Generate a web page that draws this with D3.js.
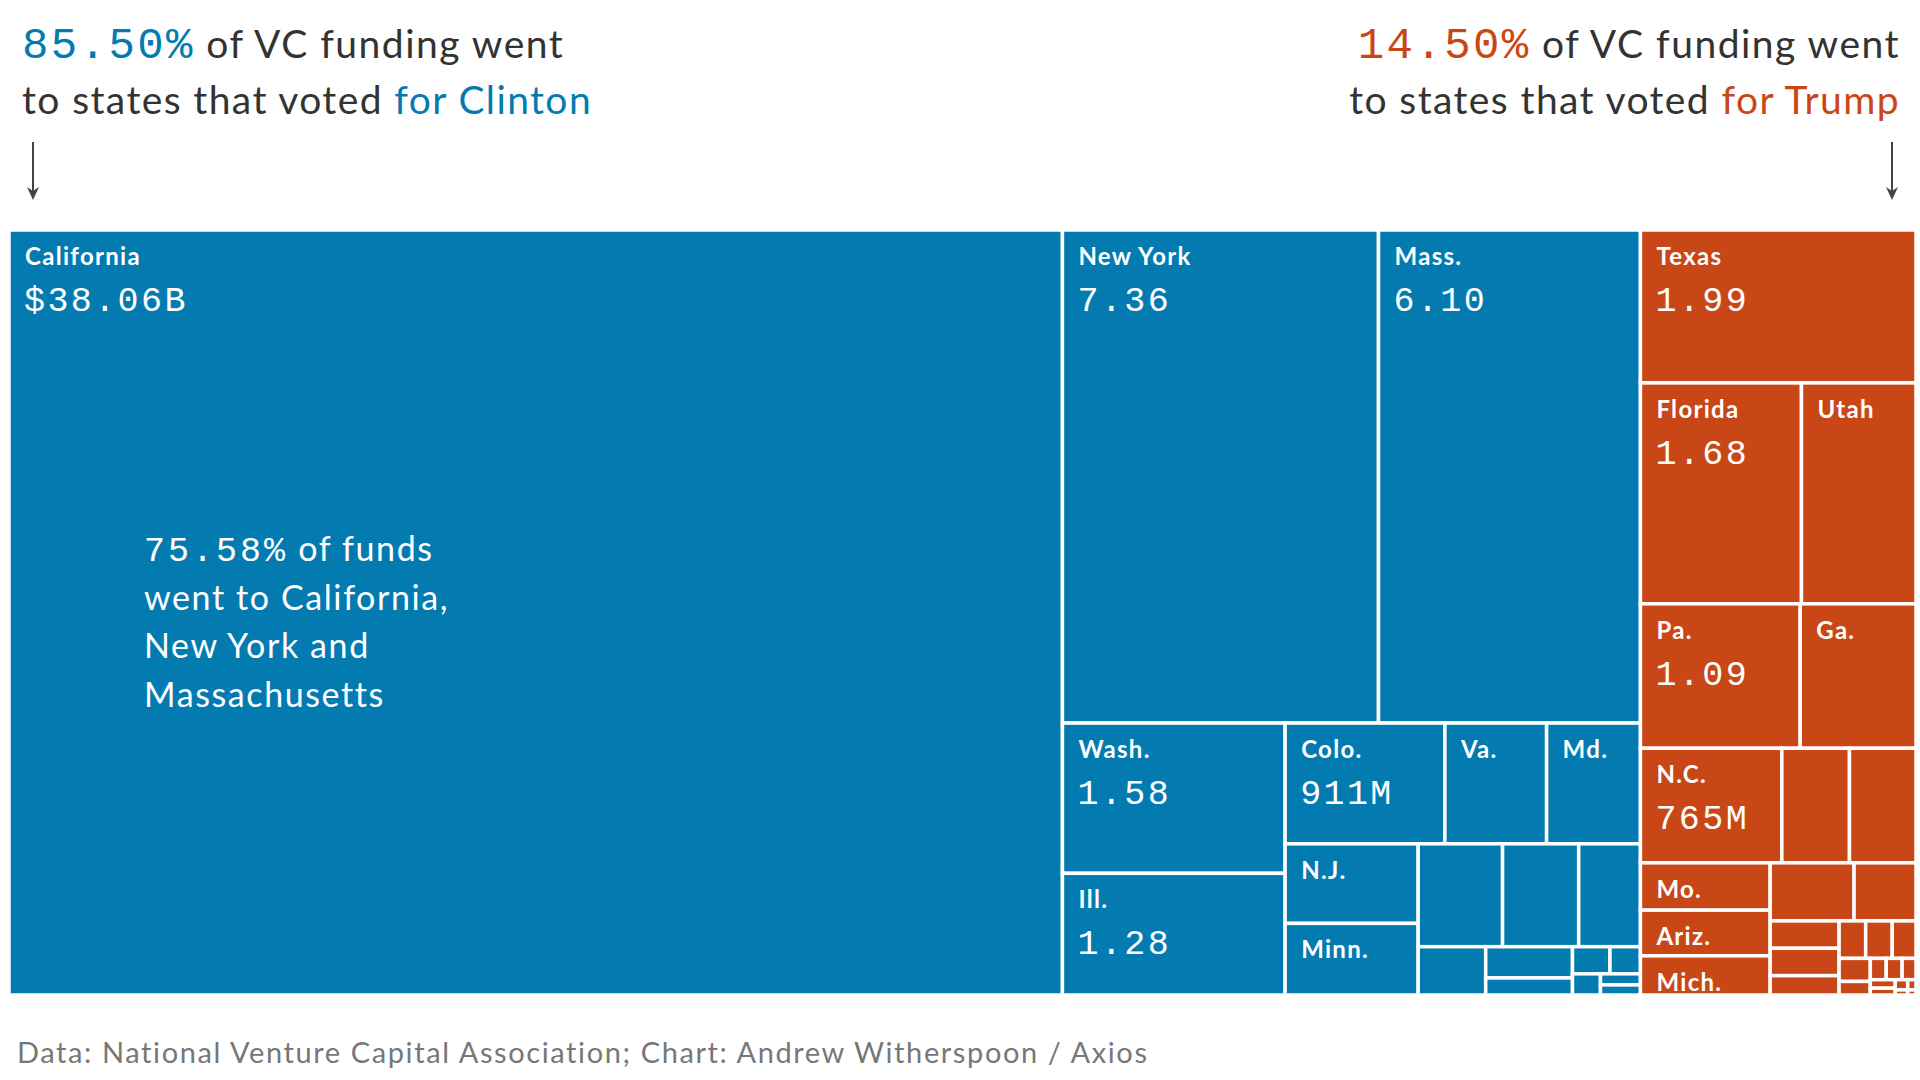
<!DOCTYPE html>
<html>
<head>
<meta charset="utf-8">
<script src="https://cdn.jsdelivr.net/npm/d3@7"></script>
<style>
  html, body { margin: 0; padding: 0; background: #fff; }
  svg { display: block; }
</style>
</head>
<body>
<svg id="chart" width="1920" height="1080"></svg>
<script>
// ---------------- DATA ----------------
const states = [
  "California","New York","Mass.","Wash.","Ill.","Colo.","Va.","Md.","N.J.","Minn.",
  "Conn.","Ore.","D.C.","N.H.","Nev.","R.I.","Del.","N.M.","Vt.","Maine","Hawaii",
  "Texas","Florida","Utah","Pa.","Ga.","N.C.","Ohio","Tenn.","Mo.","Ariz.","Mich.",
  "Ind.","Wis.","Kan.","S.C.","Ala.","Ky.","Iowa","Neb.","La.","Okla.","Idaho",
  "Ark.","Mont.","Miss.","W.Va.","S.D.","N.D.","Wyo.","Alaska"
];
// VC funding, $ billions (estimated from the picture where not printed)
const values = [
  38.06, 7.36, 6.10, 1.58, 1.28, 0.911, 0.58, 0.535, 0.50, 0.45,
  0.41, 0.37, 0.30, 0.154, 0.128, 0.07, 0.048, 0.039, 0.028, 0.021, 0.019,
  1.99, 1.68, 1.195, 1.09, 0.79, 0.765, 0.366, 0.36, 0.29, 0.28, 0.24,
  0.23, 0.17, 0.089, 0.089, 0.063, 0.047, 0.047, 0.042, 0.034, 0.016, 0.016,
  0.02, 0.014, 0.01, 0.008, 0.006, 0.004, 0.003, 0.002
];
const party = states.map((s, i) => i < 21 ? "Clinton" : "Trump");
const shownNames = ["California","New York","Mass.","Wash.","Ill.","Colo.","Va.","Md.","N.J.","Minn.",
  "Texas","Florida","Utah","Pa.","Ga.","N.C.","Mo.","Ariz.","Mich."];
const valueText = {
  "California": "$38.06B", "New York": "7.36", "Mass.": "6.10", "Wash.": "1.58", "Ill.": "1.28",
  "Colo.": "911M", "Texas": "1.99", "Florida": "1.68", "Pa.": "1.09", "N.C.": "765M"
};
const groups = ["Clinton", "Trump"];
const groupShare = ["85.50%", "14.50%"];
const colors = { Clinton: "#037bb1", Trump: "#c94717" };
const annotationLines = [["75.58%", " of funds"], ["", "went to California,"], ["", "New York and"], ["", "Massachusetts"]];
const sourceText = "Data: National Venture Capital Association; Chart: Andrew Witherspoon / Axios";

// ---------------- LAYOUT ----------------
const SANS = "Lato, 'Open Sans', sans-serif";
const MONO = "'Liberation Mono', 'DejaVu Sans Mono', monospace";
const TX = 9, TY = 230, TW = 1907, TH = 765;
const STRETCH = 1.52;             // layout computed in a narrower box, then stretched
const LW = TW / STRETCH;

const svg = d3.select("#chart");

const data = {
  name: "root",
  children: groups.map(g => ({
    name: g,
    children: states.map((s, i) => ({ name: s, value: values[i], party: party[i] }))
                    .filter(d => d.party === g)
  }))
};

const root = d3.hierarchy(data)
  .sum(d => d.value || 0)
  .sort((a, b) => b.value - a.value);

d3.treemap().tile(d3.treemapSquarify).size([LW, TH])(root);

const x = d3.scaleLinear().domain([0, LW]).range([TX, TX + TW]);
const y = d3.scaleLinear().domain([0, TH]).range([TY, TY + TH]);

const leaves = root.leaves();

const cell = svg.append("g").selectAll("g").data(leaves).join("g");

cell.append("rect")
  .attr("x", d => x(d.x0))
  .attr("y", d => y(d.y0))
  .attr("width", d => x(d.x1) - x(d.x0))
  .attr("height", d => y(d.y1) - y(d.y0))
  .attr("fill", d => colors[d.data.party])
  .attr("stroke", "#fff")
  .attr("stroke-width", 3.5);

cell.filter(d => shownNames.includes(d.data.name))
  .append("text")
  .attr("x", d => x(d.x0) + 16)
  .attr("y", d => y(d.y0) + 35)
  .attr("fill", "#fff")
  .style("font-family", SANS)
  .style("font-weight", 700)
  .style("font-size", "24px")
  .style("letter-spacing", "1.3px")
  .text(d => d.data.name);

cell.filter(d => valueText[d.data.name])
  .append("text")
  .attr("x", d => x(d.x0) + 15)
  .attr("y", d => y(d.y0) + 81)
  .attr("fill", "#fff")
  .style("font-family", MONO)
  .style("font-size", "35px")
  .style("letter-spacing", "2.4px")
  .text(d => valueText[d.data.name]);

// annotation inside California
const ca = leaves.find(d => d.data.name === "California");
const ann = svg.append("text")
  .attr("fill", "#fff")
  .style("font-family", SANS)
  .style("font-size", "34px")
  .style("letter-spacing", "1.6px");
annotationLines.forEach((ln, i) => {
  const t = ann.append("tspan")
    .attr("x", x(ca.x0) + 135)
    .attr("y", y(ca.y0) + 331 + i * 48.5);
  if (ln[0]) t.append("tspan").style("font-family", MONO).style("font-size", "35px")
    .style("letter-spacing", "3px").text(ln[0]);
  t.append("tspan").text(ln[1]);
});

// ---------------- HEADERS ----------------
function header(xPos, anchor, group, share) {
  const g = svg.append("g");
  const l1 = g.append("text")
    .attr("x", xPos).attr("y", 58).attr("text-anchor", anchor)
    .style("font-family", SANS).style("font-size", "39px")
    .style("letter-spacing", "1.5px").attr("fill", "#333");
  l1.append("tspan").style("font-family", MONO).style("font-size", "44px")
    .style("letter-spacing", "2.4px").attr("fill", colors[group]).text(share);
  l1.append("tspan").text(" of VC funding went");
  const l2 = g.append("text")
    .attr("x", xPos).attr("y", 114).attr("text-anchor", anchor)
    .style("font-family", SANS).style("font-size", "39px")
    .style("letter-spacing", "1.4px").attr("fill", "#333");
  l2.append("tspan").text("to states that voted ");
  l2.append("tspan").attr("fill", colors[group]).text("for " + group);
}
header(22, "start", groups[0], groupShare[0]);
header(1900, "end", groups[1], groupShare[1]);

function arrow(ax) {
  svg.append("line").attr("x1", ax).attr("x2", ax).attr("y1", 142).attr("y2", 194)
    .attr("stroke", "#444").attr("stroke-width", 2);
  svg.append("path")
    .attr("d", `M${ax - 6},${187} L${ax},${200} L${ax + 6},${187} L${ax},${191} Z`)
    .attr("fill", "#444");
}
arrow(33);
arrow(1892);

// ---------------- SOURCE ----------------
svg.append("text")
  .attr("x", 17).attr("y", 1063)
  .attr("fill", "#777")
  .style("font-family", SANS).style("font-weight", 400).style("font-size", "29px")
  .style("letter-spacing", "1.6px")
  .text(sourceText);
</script>
</body>
</html>
